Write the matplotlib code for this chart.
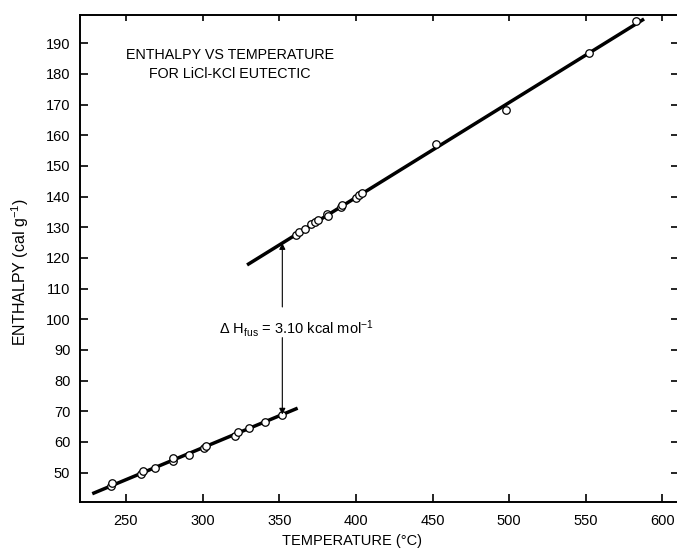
import matplotlib
matplotlib.use("Agg")
import matplotlib.pyplot as plt
import numpy as np

plt.rcParams['font.family'] = ['Liberation Sans', 'DejaVu Sans']
plt.rcParams['mathtext.fontset'] = 'custom'
plt.rcParams['mathtext.rm'] = 'Liberation Sans'
plt.rcParams['mathtext.it'] = 'Liberation Sans'

# solid salt (below the fusion step)
solid_T = [240, 241, 260, 261, 269, 281, 281, 291, 301, 302, 321, 323, 330, 341, 352]
solid_H = [45.5, 46.7, 49.6, 50.4, 51.4, 53.8, 54.6, 55.8, 58.0, 58.8, 62.0, 63.2, 64.5, 66.5, 68.8]

# liquid salt
liquid_T = [361, 363, 367, 371, 373, 375, 381, 382, 390, 391, 400, 402, 404, 452, 498, 552, 583]
liquid_H = [127.6, 128.4, 129.4, 131.0, 131.6, 132.4, 134.4, 133.6, 136.6, 137.4, 139.6, 140.4, 141.0,
            157.2, 168.3, 186.9, 197.4]

# drawn fit lines
solid_fit_T = [228, 362]
solid_fit_H = [43.1, 71.0]
liquid_fit_T = [329, 588]
liquid_fit_H = [117.7, 197.9]

x_ticks = [250, 300, 350, 400, 450, 500, 550, 600]
y_ticks = [50, 60, 70, 80, 90, 100, 110, 120, 130, 140, 150, 160, 170, 180, 190]

fus_T = 352
fus_text = r"$\Delta$ H$_{\rm fus}$ = 3.10 kcal mol$^{-1}$"

fig = plt.figure(figsize=(6.77, 5.5), dpi=100)
ax = fig.add_axes([80 / 677, 1 - 501.7 / 550, 597 / 677, (501.7 - 15) / 550])

ax.plot(solid_fit_T, solid_fit_H, color='black', lw=2.5, solid_capstyle='butt')
ax.plot(liquid_fit_T, liquid_fit_H, color='black', lw=2.5, solid_capstyle='butt')
ax.plot(solid_T, solid_H, 'o', ms=5.4, mfc='white', mec='black', mew=0.9)
ax.plot(liquid_T, liquid_H, 'o', ms=5.4, mfc='white', mec='black', mew=0.9)

ax.set_xlim(220, 609.5)
ax.set_ylim(40.5, 199.2)
ax.set_xticks(x_ticks)
ax.set_yticks(y_ticks)

### heat of fusion arrow, split where the label crosses it
h_lo = np.interp(fus_T, solid_fit_T, solid_fit_H)
h_hi = np.interp(fus_T, liquid_fit_T, liquid_fit_H)
arrow = dict(arrowstyle='-|>', color='black', lw=0.8, mutation_scale=9, shrinkA=0, shrinkB=0)
ax.annotate('', xy=(fus_T, h_hi), xytext=(fus_T, 104), arrowprops=arrow)
ax.annotate('', xy=(fus_T, h_lo), xytext=(fus_T, 94), arrowprops=arrow)
ax.text(310.5, 97, fus_text, fontsize=10.5, ha='left', va='center')

ax.text(0.251, 0.898, "ENTHALPY VS TEMPERATURE\nFOR LiCl-KCl EUTECTIC", transform=ax.transAxes,
        fontsize=10.3, ha='center', va='center', linespacing=1.45)

ax.tick_params(direction='in', length=6, width=1.2, labelsize=10.5)
ax.tick_params(axis='x', pad=9)
ax.tick_params(axis='y', pad=7)
ax.tick_params(top=True, right=True)
for t in ax.xaxis.get_major_ticks():
    t.tick2line.set_markersize(4.5)
for t in ax.yaxis.get_major_ticks():
    t.tick2line.set_markersize(4.5)
for s in ['left', 'bottom', 'top']:
    ax.spines[s].set_linewidth(1.4)
ax.spines['right'].set_visible(False)

ax.set_xlabel("TEMPERATURE (°C)", fontsize=10.5)
ax.xaxis.set_label_coords(0.456, -0.066)
ax.set_ylabel(r"ENTHALPY (cal g$^{-1}$)", fontsize=11.5)
ax.yaxis.set_label_coords(-0.082, 0.472)

fig.savefig("out.png", dpi=100)
